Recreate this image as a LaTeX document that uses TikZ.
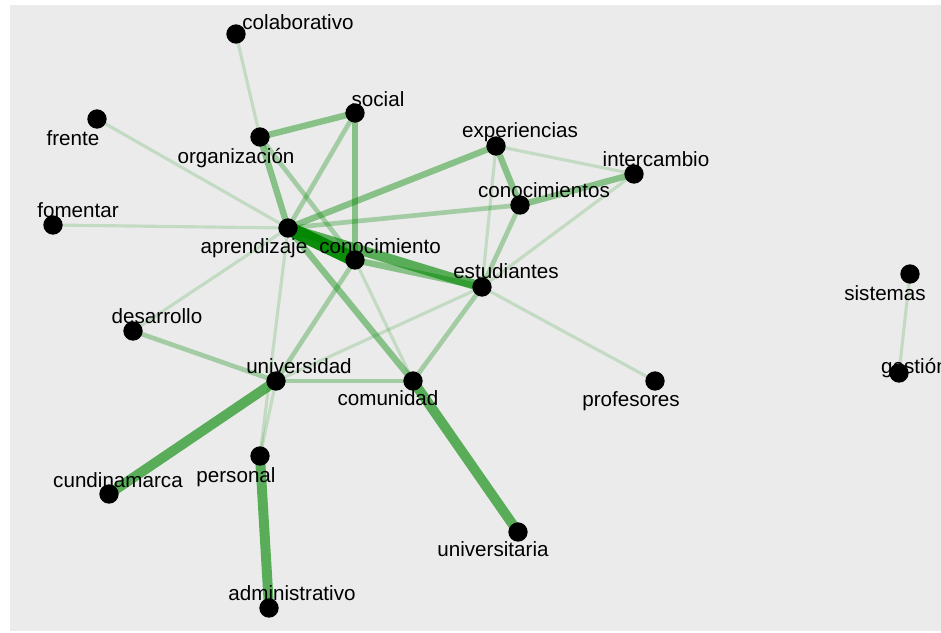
\documentclass[tikz,border=0pt]{standalone}
\usepackage{fontspec}
\setmainfont{Liberation Sans}
\usepackage{tikz}
\usetikzlibrary{positioning}
\definecolor{panel}{RGB}{235,235,235}
\definecolor{edgegreen}{RGB}{0,135,0}
\tikzstyle{dot} =[circle, fill=black, inner sep=0pt, minimum size=0.58cm]
\tikzstyle{word} =[anchor=base, inner sep=0pt, black, font=\fontsize{17.6}{18}\selectfont]
\tikzstyle{e1} =[line width=2.7pt, draw=edgegreen, draw opacity=0.17]
\tikzstyle{e2} =[line width=4pt, draw=edgegreen, draw opacity=0.3]
\tikzstyle{e3} =[line width=5.4pt, draw=edgegreen, draw opacity=0.42]
\tikzstyle{e4} =[line width=8.5pt, draw=edgegreen, draw opacity=0.62]
\tikzstyle{e5} =[line width=12pt, draw=edgegreen, draw opacity=0.95]
\pgfdeclarelayer{back}
\pgfdeclarelayer{edges}
\pgfsetlayers{back,edges,main}

\begin{document}
\begin{tikzpicture}[x=0.03cm, y=-0.03cm]
        \useasboundingbox (0,0) rectangle (941,632);

        % Panel
        \begin{pgfonlayer}{back}
        \fill[panel] (10,5) rectangle (941,631);
        \end{pgfonlayer}

        %% Vertices
        \foreach \n/\x/\y in {col/236/34, fre/97/119, soc/355/113, org/260/137,
                fom/53/225, apr/288/228, cnt/355/260, exp/496/146, int/634/174,
                cns/520/205, est/482/287, sis/910/274, des/133/331, uni/276/381,
                com/413/381, per/260/456, cun/109/494, adm/269/608, pro/655/381,
                unv/518/532, ges/899/373} {
                \node[dot] (\n) at (\x,\y) {};
            }

        %% Labels
        \node[word] (lcol) at (298,29) {colaborativo};
        \node[word] (lfre) at (73,145) {frente};
        \node[word] (lsoc) at (378,106) {social};
        \node[word] (lorg) at (236,163) {organización};
        \node[word] (lfom) at (78,217) {fomentar};
        \node[word] (lapr) at (254,253) {aprendizaje};
        \node[word] (lcnt) at (380,253) {conocimiento};
        \node[word] (lexp) at (520,137) {experiencias};
        \node[word] (lint) at (656,166) {intercambio};
        \node[word] (lcns) at (544,197) {conocimientos};
        \node[word] (lest) at (506,278) {estudiantes};
        \node[word] (lsis) at (885,300) {sistemas};
        \node[word] (ldes) at (157,323) {desarrollo};
        \node[word] (luni) at (299,373) {universidad};
        \node[word] (lcom) at (388,405) {comunidad};
        \node[word] (lper) at (236,482) {personal};
        \node[word] (lcun) at (118,487) {cundinamarca};
        \node[word] (ladm) at (292,600) {administrativo};
        \node[word] (lpro) at (631,406) {profesores};
        \node[word] (lunv) at (493,556) {universitaria};
        \node[word, anchor=base west] (lges) at (881,373) {gestión};

        %% Edges
        \begin{pgfonlayer}{edges}
        \foreach \a/\b/\s in {col/org/e1, fre/apr/e1, fom/apr/e1, org/soc/e3,
                org/apr/e3, org/cnt/e2, soc/apr/e2, soc/cnt/e3, apr/exp/e3,
                apr/cns/e2, exp/cns/e3, exp/int/e1, exp/est/e1, cns/int/e3,
                cns/est/e2, int/est/e1, est/pro/e1, est/com/e2, est/uni/e1,
                cnt/com/e1, cnt/uni/e2, apr/com/e3, apr/per/e1, uni/per/e1,
                apr/des/e1, des/uni/e2, uni/com/e2, uni/cun/e4, per/adm/e4,
                com/unv/e4, sis/ges/e1, cnt/est/e3, apr/est/e4, apr/cnt/e5} {
                \draw[style=\s] (\a.center) -- (\b.center);
            }
        \end{pgfonlayer}

    \end{tikzpicture}
\end{document}
